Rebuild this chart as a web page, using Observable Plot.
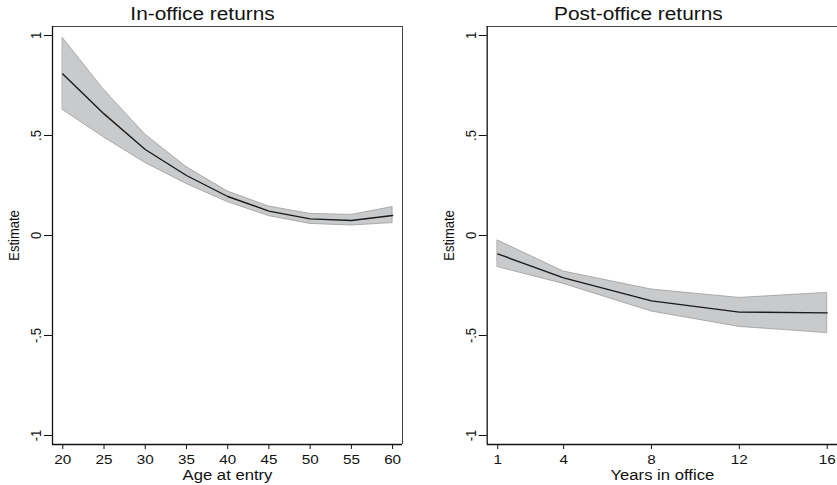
<!DOCTYPE html>
<html>
<head>
<meta charset="utf-8">
<script src="https://cdn.jsdelivr.net/npm/d3@7"></script>
<script src="https://cdn.jsdelivr.net/npm/@observablehq/plot@0.6"></script>
<style>
  html, body { margin: 0; padding: 0; background: #fff; overflow: hidden; }
  #wrap { position: relative; width: 837px; height: 485px; overflow: hidden; }
  .panel { position: absolute; top: 0; overflow: visible; }
  .panel svg { max-width: none !important; display: block; }
  svg text { font-family: "Liberation Sans", Arial, Helvetica, sans-serif; }
</style>
</head>
<body>
<div id="wrap"></div>
<script>
// ---- data ----
const panelTitles = ["In-office returns", "Post-office returns"];
const xLabels = ["Age at entry", "Years in office"];
const yLabel = "Estimate";

const ages = [20, 25, 30, 35, 40, 45, 50, 55, 60];
const inEst = [0.808, 0.608, 0.430, 0.300, 0.195, 0.122, 0.083, 0.075, 0.100];
const inHi  = [0.987, 0.728, 0.505, 0.342, 0.220, 0.145, 0.108, 0.103, 0.142];
const inLo  = [0.628, 0.490, 0.363, 0.258, 0.167, 0.097, 0.058, 0.050, 0.062];

const years = [1, 4, 8, 12, 16];
const postEst = [-0.092, -0.212, -0.327, -0.383, -0.387];
const postHi  = [-0.025, -0.180, -0.270, -0.312, -0.287];
const postLo  = [-0.158, -0.242, -0.380, -0.457, -0.488];

const yTickValues = [-1, -0.5, 0, 0.5, 1];
const yTickLabels = ["-1", "-.5", "0", ".5", "1"];
const ageTicks = [20, 25, 30, 35, 40, 45, 50, 55, 60];
const yearTicks = [1, 4, 8, 12, 16];

// ---- build ----
const rowsIn = ages.map((x, i) => ({x, est: inEst[i], hi: inHi[i], lo: inLo[i]}));
const rowsPost = years.map((x, i) => ({x, est: postEst[i], hi: postHi[i], lo: postLo[i]}));
const yTicks = yTickValues.map((v, i) => ({v, label: yTickLabels[i]}));
const yDomain = [-1.045, 1.045];

function panel({rows, xDomain, xTicks, title, xLabel, width, marginLeft, marginRight, titleDx}) {
  const xmin = xDomain[0], xmax = xDomain[1];
  return Plot.plot({
    width, height: 485,
    marginLeft, marginRight, marginTop: 26, marginBottom: 41,
    x: {domain: xDomain},
    y: {domain: yDomain},
    style: {fontFamily: '"Liberation Sans", Arial, sans-serif', background: "transparent", maxWidth: "none"},
    marks: [
      Plot.areaY(rows, {x: "x", y1: "lo", y2: "hi", fill: "#c9cacc", stroke: "#9c9c9c", strokeWidth: 0.8}),
      Plot.lineY(rows, {x: "x", y: "est", stroke: "#1a1a1a", strokeWidth: 1.4}),
      Plot.ruleY([yDomain[1]], {stroke: "#444", strokeWidth: 1}),
      Plot.ruleX([xmax], {stroke: "#444", strokeWidth: 1}),
      Plot.ruleX([xmin], {stroke: "#111", strokeWidth: 1.3}),
      Plot.ruleY([yDomain[0]], {stroke: "#111", strokeWidth: 1.3}),
      Plot.axisX({ticks: xTicks, tickSize: 5, tickPadding: 5, fontSize: 12.8, label: null, stroke: "#111", fill: "#111"}),
      Plot.axisY({ticks: yTickValues, tickSize: 8, tickFormat: () => "", label: null, stroke: "#111"}),
      Plot.text(yTicks, {frameAnchor: "left", y: "v", text: "label", rotate: -90, dx: -16,
        textAnchor: "middle", lineAnchor: "middle", fontSize: 13, fill: "#111"}),
      Plot.text([yLabel], {frameAnchor: "left", dx: -38, rotate: -90,
        textAnchor: "middle", lineAnchor: "middle", fontSize: 13, fill: "#111"}),
      Plot.text([xLabel], {frameAnchor: "bottom", dy: 31, textAnchor: "middle", lineAnchor: "middle", fontSize: 14, fill: "#111"}),
      Plot.text([title], {frameAnchor: "top", dy: -12, dx: titleDx, textAnchor: "middle", lineAnchor: "middle", fontSize: 17.5, fill: "#111"})
    ]
  });
}

const wrap = document.getElementById("wrap");

const left = panel({rows: rowsIn, xDomain: [18.75, 61.2], xTicks: ageTicks,
  title: panelTitles[0], xLabel: xLabels[0], width: 418, marginLeft: 52, marginRight: 16, titleDx: -25});
const leftDiv = document.createElement("div");
leftDiv.className = "panel"; leftDiv.style.left = "0px"; leftDiv.style.width = "418px";
leftDiv.appendChild(left); wrap.appendChild(leftDiv);

const right = panel({rows: rowsPost, xDomain: [0.52, 16.47], xTicks: yearTicks,
  title: panelTitles[1], xLabel: xLabels[1], width: 429, marginLeft: 68.7, marginRight: 10, titleDx: -24});
const rightDiv = document.createElement("div");
rightDiv.className = "panel"; rightDiv.style.left = "418px"; rightDiv.style.width = "429px";
rightDiv.appendChild(right); wrap.appendChild(rightDiv);

// Stata-style horizontally stretched lettering
for (const svg of [left, right]) {
  svg.querySelectorAll("text").forEach(t => {
    const tr = t.getAttribute("transform") || "";
    if (!t.textContent) return;
    if (/rotate/.test(tr)) {
      t.setAttribute("transform", tr + " scale(1,1.19)");
      return;
    }
    const len = t.getComputedTextLength();
    if (len > 0) {
      t.setAttribute("textLength", (len * 1.19).toFixed(2));
      t.setAttribute("lengthAdjust", "spacingAndGlyphs");
    }
  });
}
</script>
</body>
</html>
